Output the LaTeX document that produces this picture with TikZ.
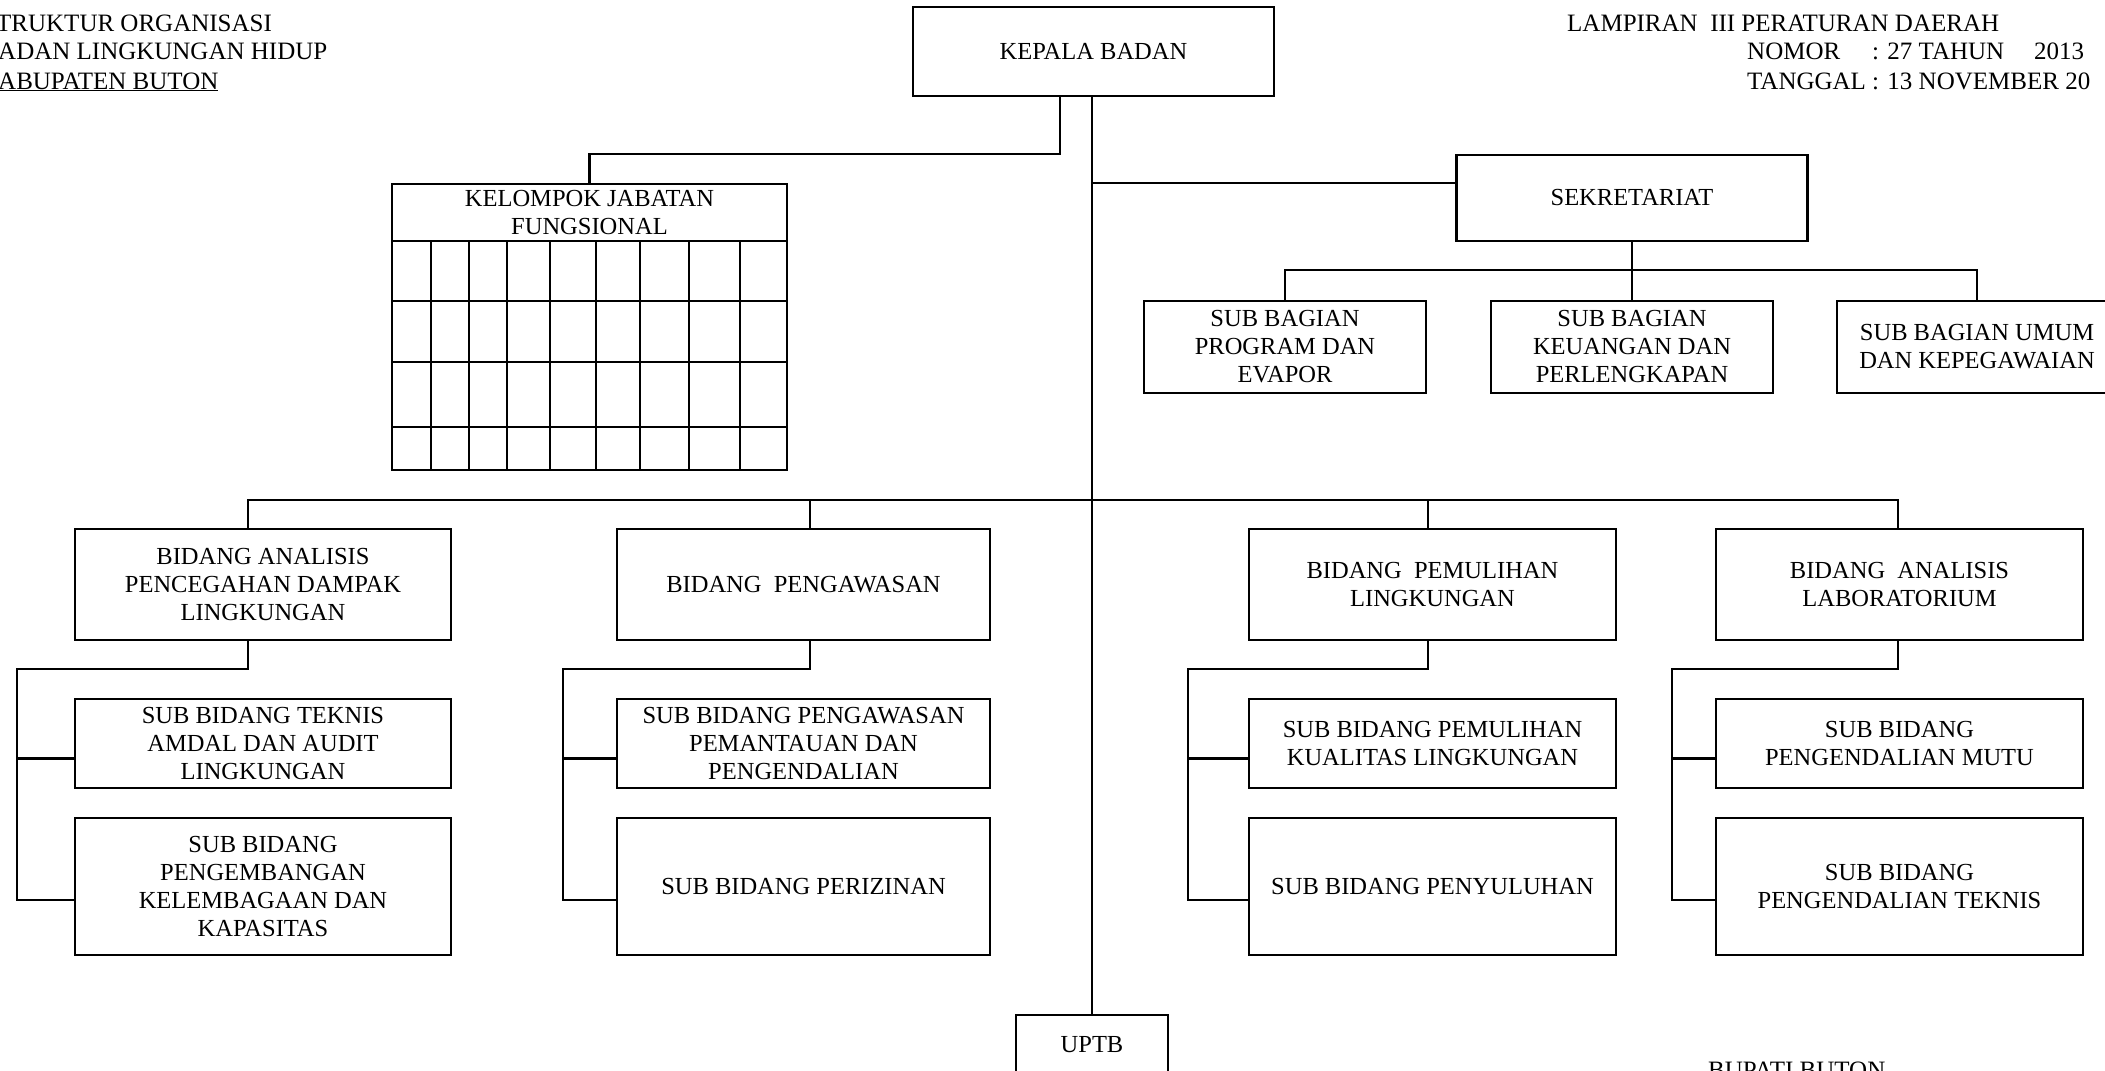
\documentclass[tikz,border=0pt]{standalone}
\usepackage{fontspec}
\setmainfont{Liberation Serif}
\begin{document}
\begin{tikzpicture}[x=1pt,y=-1pt,
  orgbox/.style={draw,line width=2.6pt,outer sep=0pt,inner sep=2pt,align=center,font=\fontsize{24.5}{28}\selectfont},
  conn/.style={line width=2.2pt},
  head/.style={inner sep=0pt,anchor=base west,font=\fontsize{25}{28}\selectfont}]
\useasboundingbox (0,0) rectangle (2105,1071);
\clip (0,0) rectangle (2105,1071);
% kop
\node[head] (judul1) at (-4,31.5) {TRUKTUR ORGANISASI};
\node[head] (judul2) at (-2,59.5) {ADAN LINGKUNGAN HIDUP};
\node[head] (judul3) at (-2,89) {\underline{ABUPATEN BUTON}};
\node[head] (lampiran) at (1567,31.5) {LAMPIRAN\ \ III PERATURAN DAERAH};
\node[head] (nomor) at (1747,59.5) {NOMOR};
\node[head] (nomorisi) at (1872,59.5) {: 27 TAHUN\hspace{30pt}2013};
\node[head] (tanggal) at (1747,89) {TANGGAL};
\node[head] (tanggalisi) at (1872,89) {: 13 NOVEMBER 20};
\node[head] (bupati) at (1708,1078) {BUPATI BUTON};
% pimpinan
\node[orgbox,minimum width=361,minimum height=89] (kepala) at (1093.5,51.5) {KEPALA BADAN};
\node[orgbox,minimum width=395,minimum height=57] (kjf) at (589.5,212.5) {KELOMPOK JABATAN\\FUNGSIONAL};
\draw[line width=2.6pt] (kjf.south west) rectangle (787,470);
\foreach \x in {431,469,507,550,596,640,689,740} \draw[line width=2.6pt] (\x,241) -- (\x,470);
\foreach \y in {301,362,427} \draw[line width=2.6pt] (392,\y) -- (787,\y);
\node[orgbox,minimum width=351,minimum height=86] (sekretariat) at (1632,198) {SEKRETARIAT};
\node[orgbox,minimum width=282,minimum height=92] (sbprog) at (1285,347) {SUB BAGIAN\\PROGRAM DAN\\EVAPOR};
\node[orgbox,minimum width=282,minimum height=92] (sbkeu) at (1632,347) {SUB BAGIAN\\KEUANGAN DAN\\PERLENGKAPAN};
\node[orgbox,minimum width=280,minimum height=92] (sbumum) at (1977,347) {SUB BAGIAN UMUM\\DAN KEPEGAWAIAN};
% bidang
\node[orgbox,minimum width=376,minimum height=111] (bid1) at (263,584.5) {BIDANG ANALISIS\\PENCEGAHAN DAMPAK\\LINGKUNGAN};
\node[orgbox,minimum width=373,minimum height=111] (bid2) at (803.5,584.5) {BIDANG\ \ PENGAWASAN};
\node[orgbox,minimum width=367,minimum height=111] (bid3) at (1432.5,584.5) {BIDANG\ \ PEMULIHAN\\LINGKUNGAN};
\node[orgbox,minimum width=367,minimum height=111] (bid4) at (1899.5,584.5) {BIDANG\ \ ANALISIS\\LABORATORIUM};
\node[orgbox,minimum width=376,minimum height=89] (sub11) at (263,743.5) {SUB BIDANG TEKNIS\\AMDAL DAN AUDIT\\LINGKUNGAN};
\node[orgbox,minimum width=376,minimum height=137] (sub12) at (263,886.5) {SUB BIDANG\\PENGEMBANGAN\\KELEMBAGAAN DAN\\KAPASITAS};
\node[orgbox,minimum width=373,minimum height=89] (sub21) at (803.5,743.5) {SUB BIDANG PENGAWASAN\\PEMANTAUAN DAN\\PENGENDALIAN};
\node[orgbox,minimum width=373,minimum height=137] (sub22) at (803.5,886.5) {SUB BIDANG PERIZINAN};
\node[orgbox,minimum width=367,minimum height=89] (sub31) at (1432.5,743.5) {SUB BIDANG PEMULIHAN\\KUALITAS LINGKUNGAN};
\node[orgbox,minimum width=367,minimum height=137] (sub32) at (1432.5,886.5) {SUB BIDANG PENYULUHAN};
\node[orgbox,minimum width=367,minimum height=89] (sub41) at (1899.5,743.5) {SUB BIDANG\\PENGENDALIAN MUTU};
\node[orgbox,minimum width=367,minimum height=137] (sub42) at (1899.5,886.5) {SUB BIDANG\\PENGENDALIAN TEKNIS};
\node[orgbox,minimum width=152,minimum height=60] (uptb) at (1092,1045) {UPTB};
% garis
\coordinate (pusat) at (1092,500);
\coordinate (cabang) at (1092,183);
\draw[conn] (kepala.south -| pusat) -- (pusat);
\draw[line width=1.5pt] (pusat) -- (uptb.north);
\draw[conn] ([xshift=-33.5pt]kepala.south) -- ++(0,58) -| (kjf.north);
\draw[conn] (cabang) -- (cabang -| sekretariat.west);
\draw[conn] (sekretariat.south) -- (sbkeu.north);
\draw[conn] (sbprog.north) -- ++(0,-31) -| (sbumum.north);
\draw[conn] ([xshift=-15pt]bid1.north) -- ++(0,-29) -| ([xshift=-1.5pt]bid4.north);
\draw[conn] ([xshift=6.5pt]bid2.north) -- ++(0,-29);
\draw[conn] ([xshift=-4.5pt]bid3.north) -- ++(0,-29);
\coordinate (siku1) at (17,669);
\coordinate (siku2) at (563,669);
\coordinate (siku3) at (1188,669);
\coordinate (siku4) at (1672,669);
\draw[conn] ([xshift=-15pt]bid1.south) |- (siku1) |- ([yshift=-13.5pt]sub12.west);
\draw[conn] ([yshift=-15pt]sub11.west) -- (siku1 |- 0,758.5);
\draw[conn] ([xshift=6.5pt]bid2.south) |- (siku2) |- ([yshift=-13.5pt]sub22.west);
\draw[conn] ([yshift=-15pt]sub21.west) -- (siku2 |- 0,758.5);
\draw[conn] ([xshift=-4.5pt]bid3.south) |- (siku3) |- ([yshift=-13.5pt]sub32.west);
\draw[conn] ([yshift=-15pt]sub31.west) -- (siku3 |- 0,758.5);
\draw[conn] ([xshift=-1.5pt]bid4.south) |- (siku4) |- ([yshift=-13.5pt]sub42.west);
\draw[conn] ([yshift=-15pt]sub41.west) -- (siku4 |- 0,758.5);
\end{tikzpicture}
\end{document}
